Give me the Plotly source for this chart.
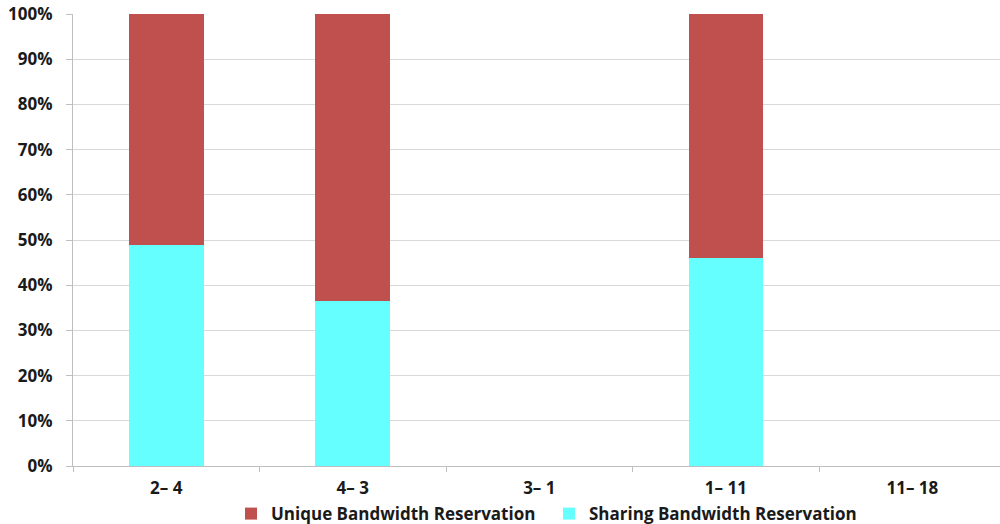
import plotly.graph_objects as go

# Link pairs and the share of each reservation type (fractions of 1)
links = ["2– 4", "4– 3", "3– 1", "1– 11", "11– 18"]
sharing = [0.49, 0.365, 0.0, 0.46, 0.0]
unique = [0.51, 0.635, 0.0, 0.54, 0.0]

RED = "#c0504d"
CYAN = "#66ffff"
FONT = "Open Sans"
TEXT = dict(family=FONT, size=17, color="#1a1a1a", weight="bold")

fig = go.Figure()
fig.add_trace(go.Bar(
    name="Sharing Bandwidth Reservation", x=links, y=sharing,
    marker=dict(color=CYAN, line=dict(width=0)),
))
fig.add_trace(go.Bar(
    name="Unique Bandwidth Reservation", x=links, y=unique,
    marker=dict(color=RED, line=dict(width=0)),
))

fig.update_layout(
    width=1000, height=524,
    margin=dict(l=73, r=0, t=14, b=58),
    barmode="stack", bargap=0.6,
    plot_bgcolor="white", paper_bgcolor="white",
    font=dict(family=FONT, size=17, color="#1a1a1a"),
    showlegend=True,
    legend=dict(
        orientation="h", traceorder="reversed",
        xref="container", yref="container",
        x=0.231, xanchor="left", y=0.019, yanchor="middle",
        bgcolor="rgba(0,0,0,0)",
        font=TEXT, itemwidth=30,
        entrywidth=273, entrywidthmode="pixels",
    ),
)
fig.update_xaxes(
    type="category", range=[-0.5, 4.47],
    showline=True, linecolor="#bfbfbf", linewidth=1,
    ticks="outside", tickson="boundaries", ticklen=5, tickcolor="#bfbfbf",
    showgrid=False, automargin=False,
    ticklabelstandoff=7,
    tickfont=TEXT,
)
fig.update_yaxes(
    range=[0, 1], dtick=0.1, tickformat=".0%",
    showline=True, linecolor="#bfbfbf", linewidth=1,
    ticks="outside", ticklen=6, tickcolor="#bfbfbf",
    showgrid=True, gridcolor="#d9d9d9", gridwidth=1,
    zeroline=False, automargin=False,
    ticklabelstandoff=10,
    tickfont=TEXT,
)

fig.write_html("out.html")
